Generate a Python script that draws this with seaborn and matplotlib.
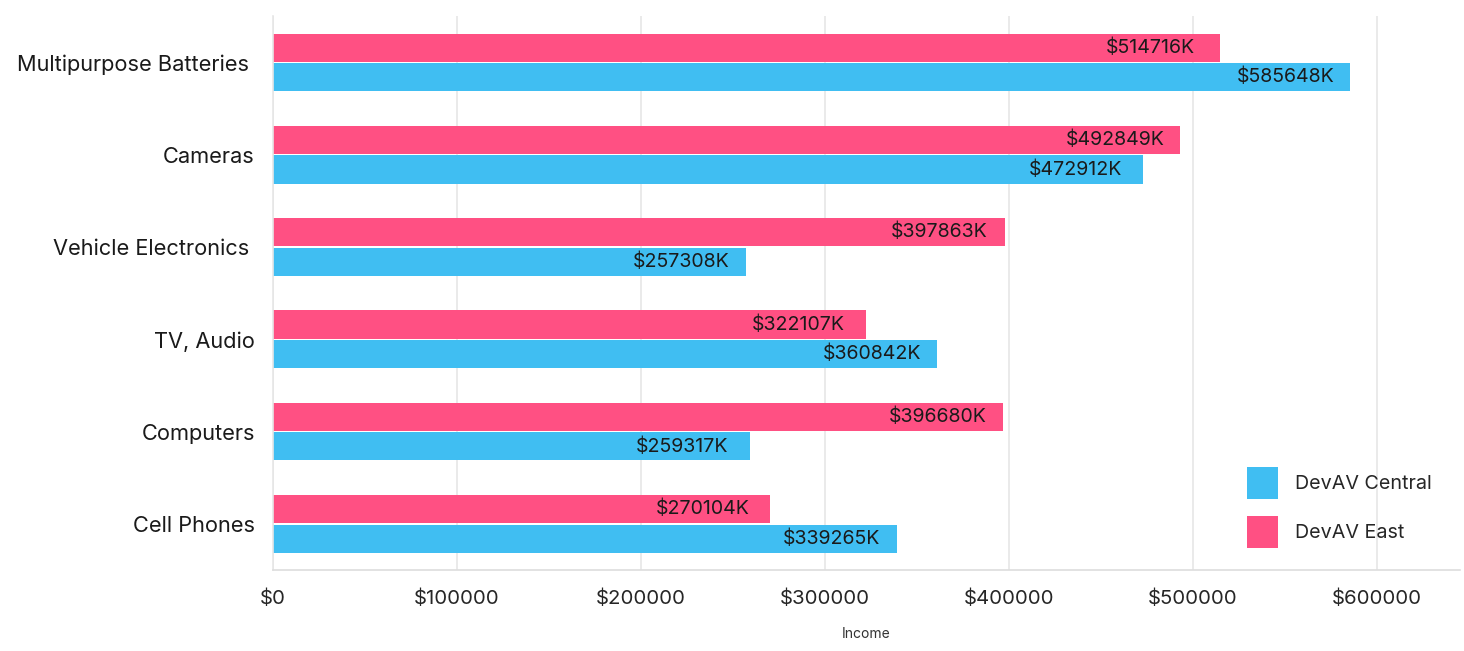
import matplotlib
matplotlib.use('Agg')
import matplotlib.pyplot as plt
import pandas as pd
import seaborn as sns
from matplotlib.patches import Patch
from matplotlib.ticker import FuncFormatter, MultipleLocator

# chart data
categories = ['Multipurpose Batteries ', 'Cameras', 'Vehicle Electronics ',
              'TV, Audio', 'Computers', 'Cell Phones']
east = [514716, 492849, 397863, 322107, 396680, 270104]
central = [585648, 472912, 257308, 360842, 259317, 339265]
series = ['DevAV Central', 'DevAV East']
colors = {'DevAV Central': '#40bef2', 'DevAV East': '#ff5083'}

df = pd.DataFrame({
    'category': categories * 2,
    'income': central + east,
    'series': ['DevAV Central'] * len(categories) + ['DevAV East'] * len(categories),
})

sns.set_style('white')
plt.rcParams['font.family'] = ['Inter', 'DejaVu Sans']

fig = plt.figure(figsize=(14.64, 6.51), dpi=100)
ax = fig.add_axes([0.1865, 0.1244, 0.8105, 0.8506])

# East drawn on top of Central within each category
sns.barplot(data=df, y='category', x='income', hue='series',
            hue_order=['DevAV East', 'DevAV Central'], order=categories,
            palette=colors, orient='h', width=0.64, gap=0.05,
            linewidth=0, saturation=1, ax=ax, legend=False)

# value labels inside bar ends
for container in ax.containers:
    ax.bar_label(container, labels=[f'${v:.0f}K' for v in container.datavalues],
                 padding=-82, fontsize=14.1, color='#1a1a1a')

ax.set_xlim(0, 645000)
ax.set_ylim(len(categories) - 0.5, -0.5)
ax.xaxis.set_major_locator(MultipleLocator(100000))
ax.xaxis.set_major_formatter(FuncFormatter(lambda v, _: f'${v:.0f}'))
ax.grid(axis='x', color='#e6e6e6', linewidth=1.2)
ax.set_axisbelow(True)

for side in ['top', 'right']:
    ax.spines[side].set_visible(False)
ax.spines['left'].set_color('#e6e6e6')
ax.spines['bottom'].set_color('#dddddd')
ax.spines['left'].set_linewidth(1.2)
ax.spines['bottom'].set_linewidth(1.2)

ax.tick_params(axis='x', length=0, pad=14, labelsize=14.7, labelcolor='#262626')
ax.tick_params(axis='y', length=0, pad=13, labelsize=15.7, labelcolor='#1a1a1a')
ticklabels = ax.get_xticklabels()
ticklabels[0].set_horizontalalignment('left')

ax.set_ylabel('')
ax.set_xlabel('Income', fontsize=10, color='#333333', labelpad=14)

handles = [Patch(facecolor=colors[s], edgecolor='none') for s in series]
ax.legend(handles, series, loc='lower right', frameon=False, fontsize=14.2,
          handlelength=1.6, handleheight=2.15, handletextpad=0.85,
          labelspacing=0.85, borderaxespad=0.7, bbox_to_anchor=(0.995, 0.0))

fig.savefig('out.png', dpi=100)
